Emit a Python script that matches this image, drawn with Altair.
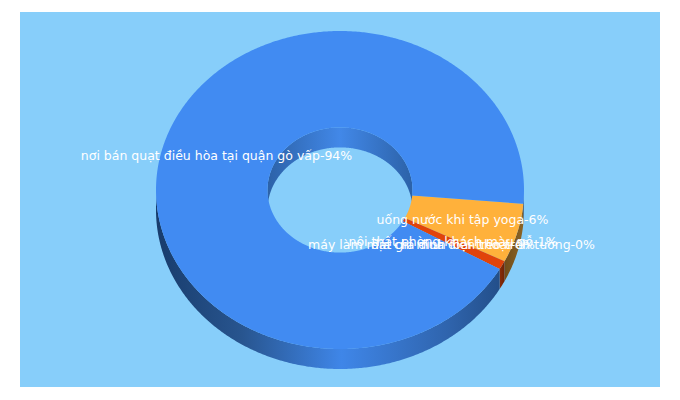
import math
import altair as alt

# ---- values ----
slice_names = ["nơi bán quạt điều hòa tại quận gò vấp", "uống nước khi tập yoga",
               "nội thất phòng khách màu gỗ", "máy làm mát gia đình loại treo trên tường",
               "địa chỉ mua điện thoại"]
slice_labels = ["94%", "6%", "1%", "0%", "0%"]
slice_shares = [93.1, 6.0, 0.9, 0.0, 0.0]

# ---- colours ----
TOP = {0: "#418bf2", 1: "#ffb13b", 2: "#e1430a"}
BG = "#87cefa"
WALL_STOPS = {
    0: [(0.0, "#183c6c"), (0.25, "#28558f"), (0.54, "#3f86e8"), (0.85, "#2f64ad"), (1.0, "#234f8a")],
    1: [(0.0, "#6f4c1a"), (1.0, "#8c6426")],
    2: [(0.0, "#8a2c08"), (1.0, "#6e2406")],
}
INNER_STOPS = [(0.0, "#2c62a8"), (0.5, "#4288e8"), (1.0, "#2c62a8")]

# ---- layout (chart pixels) ----
CX, CY = 332.0, 182.0
RX, RY = 184.0, 159.0
IRX, IRY = 72.5, 62.6
DEPTH = 20.0
START = 5.0
W, H = 664, 384


def pt(t, rx, ry, dy=0.0):
    a = math.radians(t)
    return [CX + rx * math.cos(a), CY + ry * math.sin(a) + dy]


def arc(t0, t1, rx, ry, dy=0.0):
    n = max(2, int(abs(t1 - t0) * 2))
    return [pt(t0 + (t1 - t0) * i / n, rx, ry, dy) for i in range(n + 1)]


def poly(points):
    pts = points + [points[0]]
    feature = {"type": "Feature", "properties": {},
               "geometry": {"type": "Polygon", "coordinates": [pts]}}
    return alt.Data(values=[feature])


def shape(points, fill):
    return alt.Chart(poly(points)).mark_geoshape(fill=fill, strokeWidth=0, opacity=1).project(
        type="identity", scale=1, translate=[0, 0])


def gradient(stops):
    return alt.LinearGradient(gradient="linear", x1=0, y1=0, x2=1, y2=0,
                              stops=[alt.GradientStop(offset=o, color=c) for o, c in stops])


# slice angles from their shares (order on the ring: orange, red, blue)
order = [1, 2, 0]
spans = []
t = START
for i in order:
    d = slice_shares[i] * 3.6
    spans.append((i, t, t + d))
    t += d

layers = []
layers.append(alt.Chart(alt.Data(values=[{"a": 0}])).mark_rect(color=BG).encode(
    x=alt.value(12), x2=alt.value(652), y=alt.value(4), y2=alt.value(379)))

# inner wall, back half of the hole
layers.append(shape(arc(180, 360, IRX, IRY) + arc(360, 180, IRX, IRY, DEPTH), gradient(INNER_STOPS)))

# outer wall, front half only
layers.append(shape(arc(0, START, RX, RY) + arc(START, 0, RX, RY, DEPTH), "#23508c"))
for i, t0, t1 in spans:
    a0 = max(t0, 0)
    a1 = min(t1, 180)
    if a1 > a0:
        layers.append(shape(arc(a0, a1, RX, RY) + arc(a1, a0, RX, RY, DEPTH), gradient(WALL_STOPS[i])))

# top faces
for i, t0, t1 in spans:
    layers.append(shape(arc(t0, t1, RX, RY) + arc(t1, t0, IRX, IRY), TOP[i]))

# labels
label_pos = [(208.5, 148), (454.5, 212), (445, 234), (443.5, 237), (445, 237)]
for name, pct, (lx, ly) in zip(slice_names, slice_labels, label_pos):
    layers.append(alt.Chart(alt.Data(values=[{"t": f"{name}-{pct}"}])).mark_text(
        font="DejaVu Sans", fontSize=12.5, color="white", align="center", baseline="middle"
    ).encode(text="t:N", x=alt.value(lx), y=alt.value(ly)))

chart = alt.layer(*layers).properties(width=W, height=H, padding=0,
                                       autosize=alt.AutoSizeParams(type="none")
                                       ).configure_view(stroke=None)
chart.save("out.html", embed_options={"renderer": "svg", "actions": False})
